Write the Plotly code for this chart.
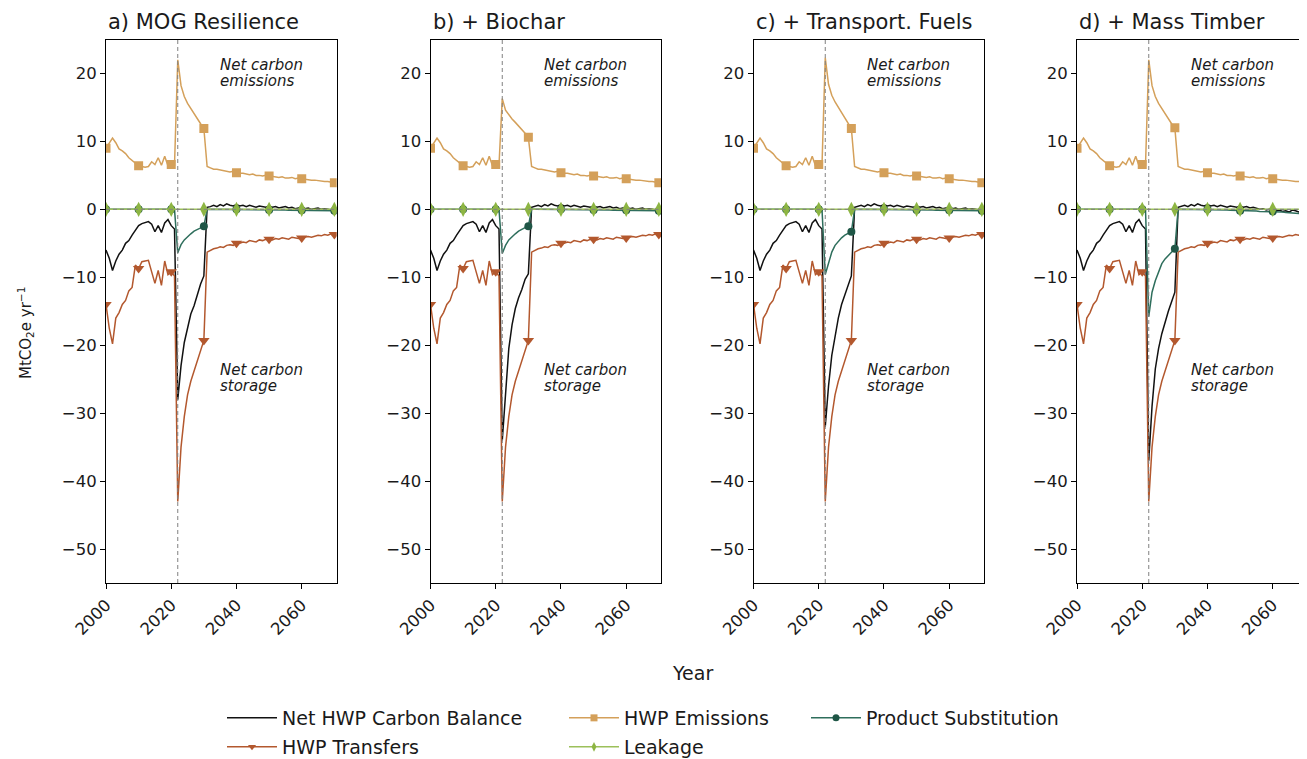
import plotly.graph_objects as go

YEARS = list(range(2000, 2071))
PANEL_TITLES = ["a) MOG Resilience", "b) + Biochar", "c) + Transport. Fuels", "d) + Mass Timber"]
SERIES_NAMES = ["Net HWP Carbon Balance", "HWP Transfers", "HWP Emissions", "Leakage", "Product Substitution"]

# 2000-2021 (shared history)
EMIS_HIST = [9.0, 9.8, 10.5, 9.8, 8.9, 8.6, 8.2, 7.6, 7.2, 6.8, 6.4, 6.3, 6.2, 6.3, 7.0, 6.6, 7.6, 6.5, 7.8, 6.4, 6.6, 6.5]
TRANS_HIST = [-14.0, -17.5, -19.8, -16.0, -15.2, -14.0, -13.4, -12.0, -11.5, -8.2, -8.7, -7.7, -7.6, -7.5, -9.2, -10.9, -9.0, -11.2, -7.6, -9.6, -9.2, -9.8]
NET_HIST = [-6.0, -7.2, -9.0, -7.6, -6.6, -6.0, -5.0, -4.6, -3.8, -3.0, -2.4, -2.1, -1.9, -1.8, -2.2, -3.3, -2.4, -3.4, -2.0, -1.5, -2.4, -2.9]
SUB_HIST = [0.0, 0.0, 0.0, 0.0, 0.0, 0.0, 0.0, 0.0, 0.0, 0.0, 0.0, 0.0, 0.0, 0.0, 0.0, 0.0, 0.0, 0.0, 0.0, 0.0, 0.0, 0.0]

# 2022-2030 (harvest pulse)
TRANS_SHOCK = [-43.0, -35.0, -30.5, -27.3, -25.3, -23.8, -22.3, -20.7, -19.3]
EMIS_SHOCK_A = [22.0, 18.2, 16.6, 15.6, 14.8, 14.0, 13.4, 12.6, 11.9]
EMIS_SHOCK_B = [16.3, 14.6, 13.9, 13.3, 12.8, 12.3, 11.8, 11.2, 10.6]
EMIS_SHOCK_C = [22.3, 18.4, 16.8, 15.8, 15.0, 14.2, 13.5, 12.8, 11.9]
EMIS_SHOCK_D = [22.0, 18.2, 16.6, 15.6, 14.8, 14.0, 13.4, 12.6, 12.0]
SUB_SHOCK_A = [-6.4, -5.2, -4.5, -4.0, -3.6, -3.2, -3.0, -2.7, -2.5]
SUB_SHOCK_B = [-6.5, -5.3, -4.5, -4.0, -3.6, -3.2, -2.9, -2.7, -2.5]
SUB_SHOCK_C = [-9.6, -7.8, -6.3, -5.3, -4.7, -4.2, -3.8, -3.5, -3.3]
SUB_SHOCK_D = [-15.8, -12.2, -10.5, -9.2, -8.0, -7.3, -6.8, -6.3, -5.8]
NET_SHOCK_A = [-28.0, -23.0, -19.6, -17.5, -15.4, -14.2, -12.5, -11.0, -9.8]
NET_SHOCK_B = [-34.0, -26.5, -20.5, -17.0, -14.6, -13.0, -11.8, -10.3, -9.5]
NET_SHOCK_C = [-32.0, -26.0, -21.5, -18.5, -16.0, -14.0, -12.5, -11.0, -9.8]
NET_SHOCK_D = [-37.0, -29.0, -23.5, -20.5, -18.3, -16.5, -15.0, -13.6, -12.2]

# 2031-2070
EMIS_TAIL = [6.3, 6.1, 5.9, 5.9, 5.8, 5.7, 5.7, 5.5, 5.6, 5.4, 5.3, 5.3, 5.2, 5.1, 5.2, 5.0, 5.0, 4.9, 5.0, 4.9,
             4.8, 4.8, 4.7, 4.8, 4.6, 4.6, 4.7, 4.5, 4.6, 4.5, 4.4, 4.4, 4.3, 4.3, 4.2, 4.2, 4.1, 4.1, 4.0, 3.9]
TRANS_TAIL = [-6.3, -6.0, -5.8, -5.7, -5.5, -5.6, -5.3, -5.2, -5.3, -5.0, -5.0, -4.8, -4.9, -4.6, -4.7, -4.8, -4.5, -4.6, -4.4, -4.4,
              -4.5, -4.3, -4.4, -4.2, -4.3, -4.4, -4.1, -4.2, -4.3, -4.2, -4.1, -4.0, -4.1, -3.9, -3.8, -3.9, -3.7, -3.8, -3.6, -3.7]
NET_TAIL_ABC = [0.3, 0.4, 0.6, 0.4, 0.7, 0.5, 0.8, 0.6, 0.5, 0.7, 0.5, 0.6, 0.4, 0.6, 0.5, 0.3, 0.5, 0.4, 0.3, 0.5,
                0.3, 0.4, 0.2, 0.3, 0.4, 0.2, 0.3, 0.1, 0.2, 0.3, 0.1, 0.2, 0.0, 0.1, 0.2, 0.0, 0.1, 0.0, -0.1, 0.1]
NET_TAIL_D = [0.3, 0.4, 0.6, 0.4, 0.7, 0.5, 0.8, 0.6, 0.5, 0.7, 0.5, 0.6, 0.4, 0.6, 0.5, 0.3, 0.5, 0.4, 0.3, 0.5,
              0.3, 0.4, 0.2, 0.3, 0.2, 0.0, 0.1, -0.1, 0.0, 0.1, -0.2, -0.1, -0.3, -0.2, -0.4, -0.1, -0.2, -0.4, -0.3, -0.2]
SUB_TAIL_ABC = [0.0, 0.0, 0.0, 0.0, 0.0, 0.0, 0.0, 0.0, 0.0, 0.0, -0.05, -0.05, -0.05, -0.05, -0.05, -0.1, -0.1, -0.1, -0.1, -0.1,
                -0.1, -0.1, -0.1, -0.1, -0.1, -0.15, -0.15, -0.15, -0.15, -0.15, -0.15, -0.15, -0.2, -0.2, -0.2, -0.2, -0.2, -0.2, -0.2, -0.2]
SUB_TAIL_D = [0.0, 0.0, 0.0, 0.0, 0.0, 0.0, 0.0, 0.0, 0.0, 0.0, -0.05, -0.05, -0.1, -0.1, -0.1, -0.1, -0.15, -0.15, -0.15, -0.2,
              -0.2, -0.2, -0.25, -0.25, -0.25, -0.3, -0.3, -0.3, -0.3, -0.3, -0.35, -0.4, -0.4, -0.45, -0.5, -0.5, -0.55, -0.6, -0.6, -0.7]

LEAKAGE = [0.0, 0.0, 0.0, 0.0, 0.0, 0.0, 0.0, 0.0, 0.0, 0.0, 0.0, 0.0, 0.0, 0.0, 0.0, 0.0, 0.0, 0.0, 0.0, 0.0,
           0.0, 0.0, 0.0, 0.0, 0.0, 0.0, 0.0, 0.0, 0.0, 0.0, 0.0, 0.0, 0.0, 0.0, 0.0, 0.0, 0.0, 0.0, 0.0, 0.0,
           0.0, 0.0, 0.0, 0.0, 0.0, 0.0, 0.0, 0.0, 0.0, 0.0, 0.0, 0.0, 0.0, 0.0, 0.0, 0.0, 0.0, 0.0, 0.0, 0.0,
           0.0, 0.0, 0.0, 0.0, 0.0, 0.0, 0.0, 0.0, 0.0, 0.0, 0.0]

PANELS = [
    dict(net=NET_HIST + NET_SHOCK_A + NET_TAIL_ABC, trans=TRANS_HIST + TRANS_SHOCK + TRANS_TAIL,
         emis=EMIS_HIST + EMIS_SHOCK_A + EMIS_TAIL, leak=LEAKAGE, sub=SUB_HIST + SUB_SHOCK_A + SUB_TAIL_ABC),
    dict(net=NET_HIST + NET_SHOCK_B + NET_TAIL_ABC, trans=TRANS_HIST + TRANS_SHOCK + TRANS_TAIL,
         emis=EMIS_HIST + EMIS_SHOCK_B + EMIS_TAIL, leak=LEAKAGE, sub=SUB_HIST + SUB_SHOCK_B + SUB_TAIL_ABC),
    dict(net=NET_HIST + NET_SHOCK_C + NET_TAIL_ABC, trans=TRANS_HIST + TRANS_SHOCK + TRANS_TAIL,
         emis=EMIS_HIST + EMIS_SHOCK_C + EMIS_TAIL, leak=LEAKAGE, sub=SUB_HIST + SUB_SHOCK_C + SUB_TAIL_ABC),
    dict(net=NET_HIST + NET_SHOCK_D + NET_TAIL_D, trans=TRANS_HIST + TRANS_SHOCK + TRANS_TAIL,
         emis=EMIS_HIST + EMIS_SHOCK_D + EMIS_TAIL, leak=LEAKAGE, sub=SUB_HIST + SUB_SHOCK_D + SUB_TAIL_D),
]

# page offset (browser body margin) and figure size
OFF = 8
W, H = 1307 - OFF, 759 - OFF
FONT = "DejaVu Sans"
TXT = "#1a1a1a"
STYLE = {
    "net": dict(color="#111111", symbol=None, size=0),
    "trans": dict(color="#b3582e", symbol="triangle-down", size=10),
    "emis": dict(color="#d4a05a", symbol="square", size=9),
    "leak": dict(color="#8db543", symbol="diamond-tall", size=11),
    "sub": dict(color="#1f5646", symbol="circle", size=8),
}
KEYS = ["net", "trans", "emis", "leak", "sub"]
DRAW_ORDER = ["net", "trans", "emis", "sub", "leak"]
LINE_COLORS = {"net": "#111111", "trans": "#b3582e", "emis": "#d4a05a", "leak": "#9cc05a", "sub": "#2e6e5c"}

# pixel layout of the four panels (in screenshot pixels)
PANEL_PX = [(106, 336.7), (430.5, 661.2), (753.5, 984.2), (1077, 1307)]
TOP_PX, BOT_PX = 39.5, 583
XMIN = 2000.0
PX_PER_YR = 3.262


def fx(px):
    return (px - OFF) / W


def fy(py):
    return 1 - (py - OFF) / H


fig = go.Figure()
for i, pan in enumerate(PANELS):
    ax = "" if i == 0 else str(i + 1)
    for k in DRAW_ORDER:
        st = STYLE[k]
        fig.add_trace(go.Scatter(x=YEARS, y=pan[k], mode="lines",
                                 line=dict(color=LINE_COLORS[k], width=1.5),
                                 xaxis="x" + ax, yaxis="y" + ax, showlegend=False, hoverinfo="skip"))
        if st["symbol"]:
            fig.add_trace(go.Scatter(x=YEARS[::10], y=pan[k][::10], mode="markers",
                                     marker=dict(color=st["color"], symbol=st["symbol"], size=st["size"],
                                                 line=dict(width=0)),
                                     xaxis="x" + ax, yaxis="y" + ax, showlegend=False, hoverinfo="skip"))

# legend-only entries (one legend per slot to mimic matplotlib's 3-column layout)
LEG_POS = {"net": (222, 718), "trans": (222, 747), "emis": (564, 718), "leak": (564, 747), "sub": (806, 718)}
for j, k in enumerate(KEYS):
    st = STYLE[k]
    lname = "legend" if j == 0 else "legend%d" % (j + 1)
    fig.add_trace(go.Scatter(x=[None], y=[None], name=SERIES_NAMES[j],
                             mode="lines+markers" if st["symbol"] else "lines",
                             line=dict(color=LINE_COLORS[k], width=1.5),
                             marker=dict(color=st["color"], symbol=st["symbol"] or "circle", size=7),
                             legend=lname, showlegend=True))

layout = dict(width=W, height=H, margin=dict(l=0, r=0, t=0, b=0, autoexpand=False),
              paper_bgcolor="white", plot_bgcolor="white",
              font=dict(family=FONT, size=15, color=TXT), showlegend=True)

ydom = [fy(BOT_PX), fy(TOP_PX)]
annotations = []
shapes = []
for i, (l, r) in enumerate(PANEL_PX):
    ax = "" if i == 0 else str(i + 1)
    xmax = XMIN + (r - l) / PX_PER_YR
    layout["xaxis" + ax] = dict(domain=[fx(l), min(fx(r), 1.0)], range=[XMIN, xmax], anchor="y" + ax,
                                tickvals=[2000, 2020, 2040, 2060], tickangle=-45, ticks="outside", ticklen=5,
                                tickcolor="#000", showline=True, linecolor="#000", linewidth=1, mirror=True,
                                showgrid=False, zeroline=False, tickfont=dict(size=16.5), automargin=False)
    layout["yaxis" + ax] = dict(domain=ydom, range=[-55, 25], anchor="x" + ax,
                                tickvals=[-50, -40, -30, -20, -10, 0, 10, 20], ticks="outside", ticklen=5,
                                tickcolor="#000", showline=True, linecolor="#000", linewidth=1, mirror=True,
                                showgrid=False, zeroline=False, tickfont=dict(size=16.5), automargin=False)
    shapes.append(dict(type="line", xref="x" + ax, yref="y" + ax + " domain", x0=2022, x1=2022, y0=0, y1=1,
                       line=dict(color="#808080", width=1, dash="4px,3px"), layer="above"))
    shapes.append(dict(type="line", xref="x" + ax + " domain", yref="y" + ax, x0=0, x1=1, y0=0, y1=0,
                       line=dict(color="#808080", width=1, dash="4px,3px"), layer="above"))
    annotations.append(dict(text=PANEL_TITLES[i], xref="x" + ax + " domain", yref="y" + ax + " domain",
                            x=0, y=1, xanchor="left", yanchor="bottom", yshift=4, showarrow=False,
                            font=dict(size=21, color=TXT)))
    for txt, yv in (("Net carbon", 21.2), ("emissions", 18.95), ("Net carbon", -23.7), ("storage", -26.0)):
        annotations.append(dict(text="<i>%s</i>" % txt, xref="x" + ax, yref="y" + ax,
                                x=2034.2, y=yv, xanchor="left", yanchor="middle", align="left", showarrow=False,
                                font=dict(size=15, color=TXT)))

annotations.append(dict(text="MtCO<sub>2</sub>e yr<sup>−1</sup>", xref="paper", yref="paper",
                        x=fx(25), y=fy(333), textangle=-90, showarrow=False, xanchor="center", yanchor="middle",
                        font=dict(size=15, color=TXT)))
annotations.append(dict(text="Year", xref="paper", yref="paper", x=fx(692), y=fy(673),
                        showarrow=False, xanchor="center", yanchor="middle", font=dict(size=19, color=TXT)))

for j, k in enumerate(KEYS):
    lname = "legend" if j == 0 else "legend%d" % (j + 1)
    px, py = LEG_POS[k]
    layout[lname] = dict(x=fx(px), y=fy(py), xanchor="left", yanchor="middle", bgcolor="rgba(0,0,0,0)",
                         font=dict(size=19, color=TXT), itemwidth=50, borderwidth=0)

layout["annotations"] = annotations
layout["shapes"] = shapes
fig.update_layout(**layout)
fig.write_html("out.html")
